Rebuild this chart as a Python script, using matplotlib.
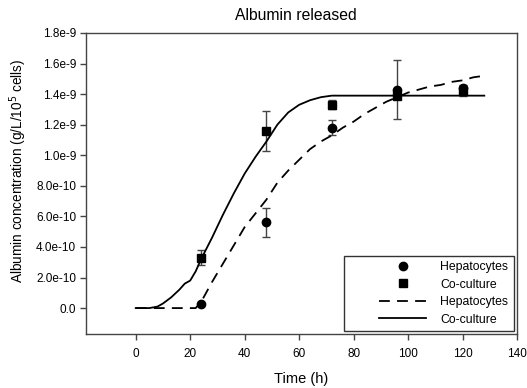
import matplotlib
matplotlib.use("Agg")
import matplotlib.pyplot as plt
from matplotlib.ticker import FixedLocator, FixedFormatter
from matplotlib.lines import Line2D
from matplotlib.legend_handler import HandlerLine2D

plt.rcParams['font.family'] = ['Liberation Sans', 'DejaVu Sans']

# measured data (units of 1e-9 g/L/10^5 cells)
t_obs = [24, 48, 72, 96, 120]
hep_obs = [0.03, 0.56, 1.18, 1.43, 1.44]
hep_err = [0.0, 0.095, 0.05, 0.195, 0.02]
co_obs = [0.33, 1.16, 1.33, 1.39, 1.42]
co_err = [0.05, 0.13, 0.03, 0.02, 0.03]

# model curves
t_hep = [0, 22, 24, 28, 32, 36, 40, 44, 48, 52, 56, 60, 64, 68, 72, 76, 80,
         84, 88, 92, 96, 100, 104, 108, 112, 116, 120, 124, 128]
hep_fit = [0, 0, 0.04, 0.17, 0.29, 0.41, 0.53, 0.62, 0.71, 0.82, 0.90, 0.97,
           1.04, 1.09, 1.13, 1.18, 1.22, 1.27, 1.31, 1.35, 1.38, 1.41, 1.43,
           1.45, 1.46, 1.48, 1.49, 1.51, 1.52]
t_co = [0, 5, 8, 10, 13, 16, 18, 20, 22, 24, 28, 32, 36, 40, 44, 48, 52, 56,
        60, 64, 68, 72, 128]
co_fit = [0, 0, 0.01, 0.03, 0.07, 0.12, 0.16, 0.18, 0.24, 0.32, 0.46, 0.61,
          0.75, 0.88, 0.99, 1.09, 1.20, 1.28, 1.33, 1.36, 1.38, 1.39, 1.39]

y_ticks = [0.0, 0.2, 0.4, 0.6, 0.8, 1.0, 1.2, 1.4, 1.6, 1.8]
y_tick_labels = ['0.0', '2.0e-10', '4.0e-10', '6.0e-10', '8.0e-10', '1.0e-9',
                 '1.2e-9', '1.4e-9', '1.6e-9', '1.8e-9']
x_ticks = [0, 20, 40, 60, 80, 100, 120, 140]
legend_labels = ['Hepatocytes', 'Co-culture', 'Hepatocytes', 'Co-culture']

scale = 1e-9
fig = plt.figure(figsize=(5.27, 3.88), dpi=100)
ax = fig.add_axes([0.163, 0.139, 0.818, 0.776])

ax.errorbar(t_obs, [v * scale for v in hep_obs], yerr=[e * scale for e in hep_err],
            fmt='o', color='black', ecolor='#444444', elinewidth=1, capsize=3,
            markersize=6)
ax.errorbar(t_obs, [v * scale for v in co_obs], yerr=[e * scale for e in co_err],
            fmt='s', color='black', ecolor='#444444', elinewidth=1, capsize=3,
            markersize=5.5)
l3, = ax.plot(t_hep, [v * scale for v in hep_fit], color='black', lw=1.3,
              dashes=(6, 4))
l4, = ax.plot(t_co, [v * scale for v in co_fit], color='black', lw=1.3)

ax.set_xlim(-18.3, 140)
ax.set_ylim(-0.17e-9, 1.8e-9)
ax.xaxis.set_major_locator(FixedLocator(x_ticks))
ax.yaxis.set_major_locator(FixedLocator([v * scale for v in y_ticks]))
ax.yaxis.set_major_formatter(FixedFormatter(y_tick_labels))
ax.tick_params(labelsize=8.5, length=4, width=1, color='#444444', direction='out')
ax.tick_params(axis='x', pad=6)
ax.tick_params(axis='y', pad=3)
for s in ax.spines.values():
    s.set_color('#444444')
    s.set_linewidth(1)

ax.set_xlabel('Time (h)', fontsize=10.5, labelpad=9)
ax.set_ylabel('Albumin concentration (g/L/10$^5$ cells)', fontsize=9.8,
              labelpad=5, y=0.543)
ax.set_title('Albumin released', fontsize=11.3, pad=9, x=0.488)

h1 = Line2D([], [], marker='o', ls='none', color='black', markersize=6)
h2 = Line2D([], [], marker='s', ls='none', color='black', markersize=5.5)
hmap = {h: HandlerLine2D(xpad=2.4) for h in (h1, h2, l3, l4)}
leg = ax.legend([h1, h2, l3, l4], legend_labels, handler_map=hmap,
                loc='lower right', fontsize=8.8, frameon=True, fancybox=False,
                edgecolor='black', handlelength=6.2, borderpad=0.45,
                labelspacing=0.45, handletextpad=1.2, borderaxespad=0.25)
leg.get_frame().set_linewidth(1)

fig.savefig('out.png', dpi=100)
